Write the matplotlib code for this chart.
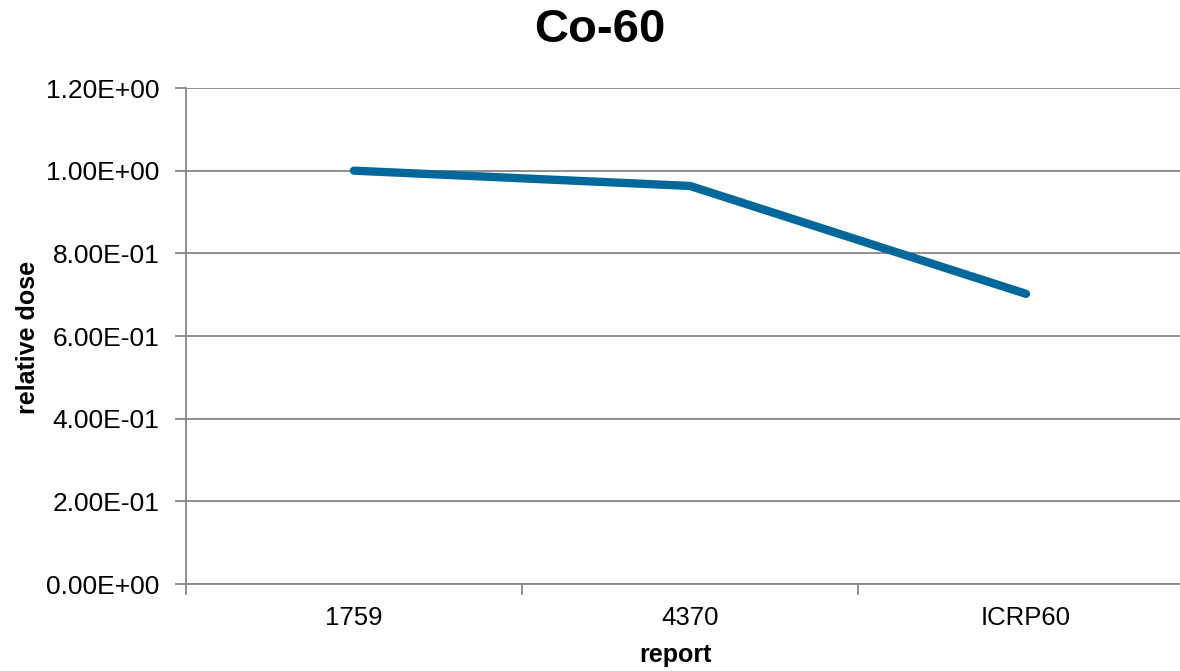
import numpy as np
import matplotlib.pyplot as plt
from matplotlib.ticker import FixedLocator, FuncFormatter

plt.rcParams['font.family'] = ['Liberation Sans', 'DejaVu Sans']

# ---- data ----
reports = ['1759', '4370', 'ICRP60']
relative_dose = [1.0, 0.963, 0.702]
y_ticks = [0.0, 0.2, 0.4, 0.6, 0.8, 1.0, 1.2]

line_color = '#00679A'
axis_gray = '#878787'

fig = plt.figure(figsize=(11.8, 6.71), dpi=100)
ax = fig.add_axes([186 / 1180, 1 - 584 / 671, 1008 / 1180, 496 / 671])

x = np.arange(len(reports))
ax.plot(x, relative_dose, color=line_color, linewidth=6, solid_capstyle='round',
        solid_joinstyle='round', zorder=3)

ax.set_xlim(-0.5, len(reports) - 0.5)
ax.set_ylim(0, 1.2)

# category ticks between categories, labels centred
ax.xaxis.set_major_locator(FixedLocator(np.arange(-0.5, len(reports), 1.0)))
ax.xaxis.set_major_formatter(FuncFormatter(lambda v, p: ''))
ax.xaxis.set_minor_locator(FixedLocator(x))
ax.set_xticklabels(reports, minor=True)
ax.tick_params(axis='x', which='minor', length=0, labelsize=18.5, pad=16)
ax.tick_params(axis='x', which='major', length=8, width=1.3, color=axis_gray, direction='out')

ax.set_yticks(y_ticks)
ax.yaxis.set_major_formatter(FuncFormatter(lambda v, p: f'{v:.2E}'))
ax.tick_params(axis='y', length=8, width=1.3, color=axis_gray, labelsize=19, pad=11)

ax.grid(axis='y', color=axis_gray, linewidth=1.3)
ax.set_axisbelow(True)
for s in ['top', 'right']:
    ax.spines[s].set_visible(False)
for s in ['left', 'bottom']:
    ax.spines[s].set_color(axis_gray)
    ax.spines[s].set_linewidth(1.3)

fig.text(600 / 1180, 1 - 30 / 671, 'Co-60', ha='center', va='center',
         fontsize=34, fontweight='bold')
fig.text(675 / 1180, 1 - 655 / 671, 'report', ha='center', va='center',
         fontsize=18, fontweight='bold')
fig.text(28 / 1180, 1 - 337 / 671, 'relative dose', ha='center', va='center',
         rotation=90, fontsize=18, fontweight='bold')

plt.savefig('out.png', dpi=100)
